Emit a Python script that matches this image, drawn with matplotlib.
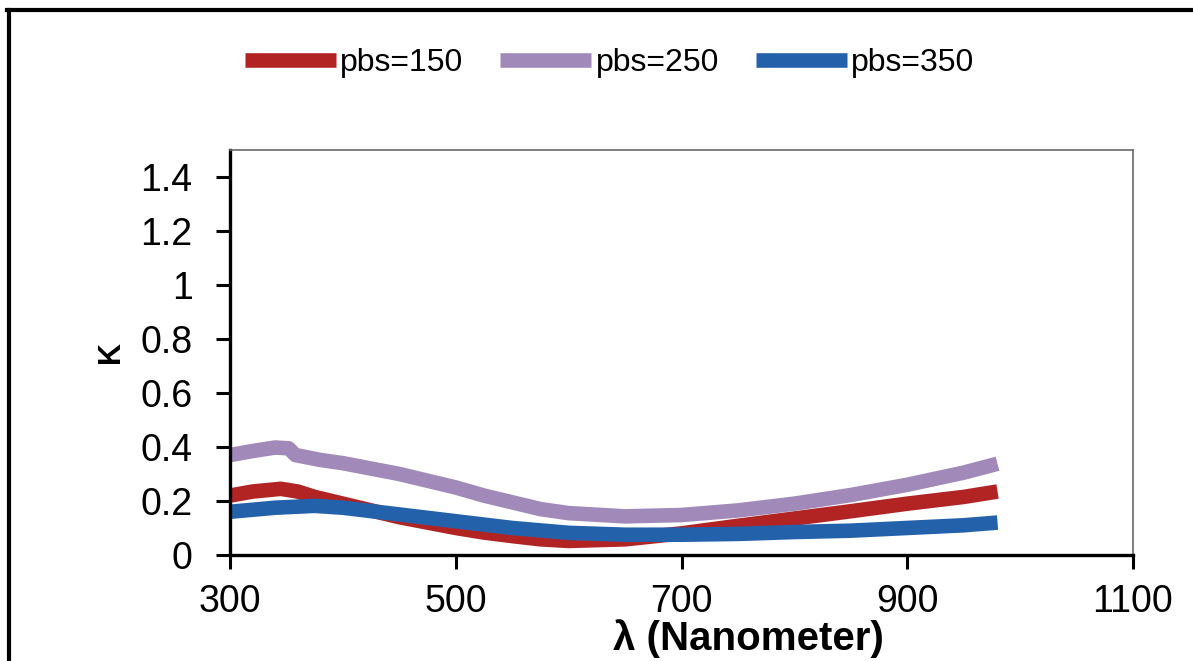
import matplotlib.pyplot as plt
from matplotlib.lines import Line2D

plt.rcParams['font.family'] = ['Liberation Sans', 'DejaVu Sans']

# длины волн и коэффициент экстинкции K для трёх образцов
wl_150 = [300, 320, 345, 360, 375, 400, 425, 450, 475, 500, 525, 550, 575, 600,
          650, 700, 750, 800, 850, 900, 950, 980]
k_150 = [0.22, 0.235, 0.245, 0.235, 0.215, 0.19, 0.165, 0.14, 0.12, 0.10, 0.083,
         0.07, 0.058, 0.052, 0.058, 0.08, 0.108, 0.135, 0.162, 0.19, 0.215, 0.235]

wl_250 = [300, 320, 340, 352, 358, 380, 400, 425, 450, 475, 500, 525, 550, 575,
          600, 650, 700, 750, 800, 850, 900, 950, 980]
k_250 = [0.37, 0.385, 0.398, 0.395, 0.37, 0.352, 0.34, 0.32, 0.30, 0.275, 0.25,
         0.22, 0.195, 0.17, 0.155, 0.143, 0.148, 0.165, 0.19, 0.222, 0.26, 0.305, 0.338]

wl_350 = [300, 340, 375, 400, 450, 500, 550, 600, 650, 700, 750, 800, 850, 900, 950, 980]
k_350 = [0.16, 0.175, 0.182, 0.175, 0.15, 0.125, 0.10, 0.082, 0.075, 0.075, 0.078,
         0.085, 0.09, 0.10, 0.11, 0.12]

labels = ['pbs=150', 'pbs=250', 'pbs=350']
colors = ['#b22424', '#a189b9', '#2361ab']

x_ticks = [300, 500, 700, 900, 1100]
y_ticks = [0, 0.2, 0.4, 0.6, 0.8, 1, 1.2, 1.4]
y_tick_labels = ['0', '0.2', '0.4', '0.6', '0.8', '1', '1.2', '1.4']

fig = plt.figure(figsize=(11.93, 6.61), dpi=100)
ax = fig.add_axes([0.1928, 0.1604, 0.7569, 0.6127])

lw = 10.5
ax.plot(wl_150, k_150, color=colors[0], lw=lw, label=labels[0], solid_capstyle='butt')
ax.plot(wl_250, k_250, color=colors[1], lw=lw, label=labels[1], solid_capstyle='butt')
ax.plot(wl_350, k_350, color=colors[2], lw=lw, label=labels[2], solid_capstyle='butt')

ax.set_xlim(300, 1100)
ax.set_ylim(0, 1.5)
ax.set_xticks(x_ticks)
ax.set_yticks(y_ticks)
ax.set_yticklabels(y_tick_labels)
ax.tick_params(axis='both', direction='out', length=10, width=2.2, labelsize=27)
ax.tick_params(axis='y', pad=17)
ax.tick_params(axis='x', pad=11)

for side in ['left', 'bottom']:
    ax.spines[side].set_linewidth(2.4)
    ax.spines[side].set_color('black')
for side in ['top', 'right']:
    ax.spines[side].set_linewidth(1.2)
    ax.spines[side].set_color('#6a6a6a')

ax.set_xlabel('λ (Nanometer)', fontsize=29, fontweight='bold')
ax.xaxis.set_label_coords(0.574, -0.158)
ax.set_ylabel('K', fontsize=22, fontweight='bold', labelpad=10)

fig.legend(loc='center', bbox_to_anchor=(0.511, 0.904), ncol=3, frameon=False,
           fontsize=23, handlelength=2.85, handletextpad=0.13, columnspacing=1.15)

# рамка вокруг всего рисунка (видны только левая и верхняя стороны)
fig.add_artist(Line2D([9 / 1193, 9 / 1193], [0, 1 - 10 / 661], color='black', lw=3,
                      transform=fig.transFigure))
fig.add_artist(Line2D([7 / 1193, 1], [1 - 10 / 661, 1 - 10 / 661], color='black', lw=3,
                      transform=fig.transFigure))

fig.savefig('out.png', dpi=100)
